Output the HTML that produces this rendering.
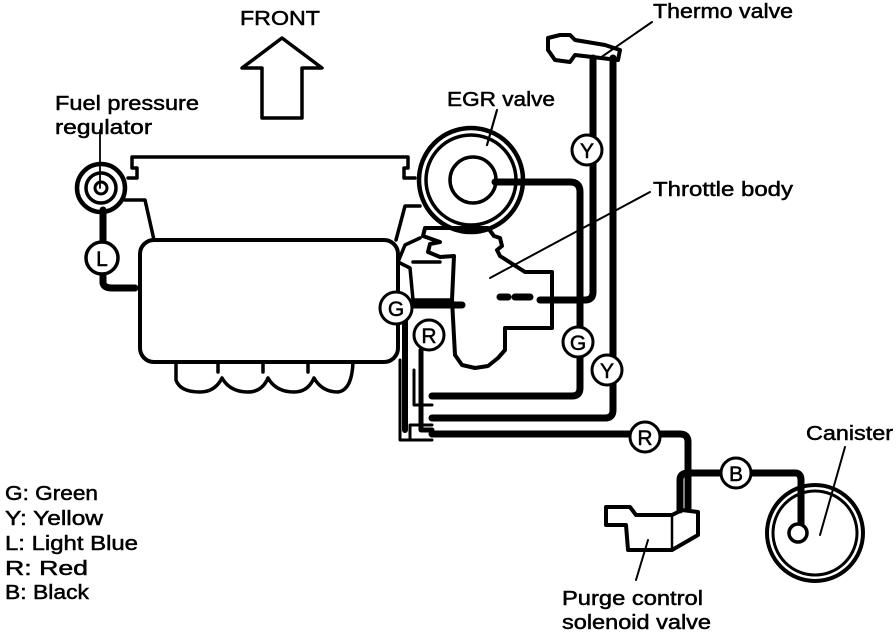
<!DOCTYPE html>
<html><head><style>
html,body{margin:0;padding:0;background:#fff;}
svg{display:block;}
text{font-family:"Liberation Sans",Arial,sans-serif;fill:#000;stroke:#000;stroke-width:0.5;}
</style></head><body>
<svg width="896" height="632" viewBox="0 0 896 632" xmlns="http://www.w3.org/2000/svg">
<g fill="none" stroke="#000" stroke-linejoin="round" stroke-linecap="round">
<path d="M282,38 L322,68 L302,68 L302,118 L262,118 L262,68 L242,68 Z" stroke-width="3.5"/>
<path d="M132,157 L132,168 L137,168 L137,178 L128,178 M132,157 L408,157 L408,168 L404,168 L404,178 L415,178" stroke-width="3.5"/>
<path d="M125,200 L145,200 L154,240 M396,240 L405,206 L420,206" stroke-width="3.5"/>
<rect x="140" y="240" width="258" height="122" rx="14" stroke-width="4"/>
<path d="M176,362 L176,380 Q180,392 200,392 Q215,392 222,378 Q230,392 248,392 Q262,392 268,378 Q276,392 294,392 Q308,392 314,378 Q322,392 338,392 Q352,390 353,362" stroke-width="3.5"/>
<path d="M218,362 L218,372 M263,362 L263,372 M308,362 L308,372" stroke-width="3.5"/>
<circle cx="101" cy="188" r="24" stroke-width="4.5"/>
<circle cx="101" cy="188" r="15" stroke-width="3.5"/>
<circle cx="101" cy="188" r="6" stroke-width="3"/>
<line x1="100" y1="130" x2="100" y2="188" stroke-width="1.8"/>
<path d="M103,210 L103,245" stroke-width="7"/>
<path d="M103,272 L103,283 Q104,288 112,288 L135,288" stroke-width="7"/>
<circle cx="102" cy="258" r="16" stroke-width="3.5" fill="#fff"/>
<circle cx="471" cy="180" r="52" stroke-width="4.5"/>
<circle cx="471" cy="180" r="45" stroke-width="3.5"/>
<circle cx="473" cy="180" r="23" stroke-width="3.5"/>
<line x1="487" y1="145" x2="497" y2="110" stroke-width="2.2"/>
<path d="M425,228 L488,228 L494,236 L500,238 L502,246 L497,250 L500,256 L525,272 L552,272 L552,328 L505,328 L505,350 L498,358 L488,366 L475,368 L462,365 L455,355 L452,300 L454,256 L440,257 L428,252 L430,244 L440,242 L423,236 Z" stroke-width="4"/>
<path d="M420,238 L405,245 L398,262 L410,268 L413,300 L452,300 M413,262 L440,262" stroke-width="3.5"/>
<path d="M500,297 L508,297 M515,297 L530,297" stroke-width="7"/>
<line x1="490" y1="278" x2="650" y2="192" stroke-width="2"/>
<path d="M548,38 L560,35 L570,35 L575,40 L605,45 L620,50 L618,60 L575,55 L570,62 L555,60 L548,50 Z" stroke-width="4"/>
<line x1="600" y1="58" x2="652" y2="22" stroke-width="2"/>
<path d="M593,58 L593,292 Q593,300 585,300 L540,300" stroke-width="7"/>
<path d="M613,58 L613,410 Q613,418 605,418 L432,418" stroke-width="7"/>
<path d="M495,182 L570,182 Q580,182 580,192 L580,388 Q580,396 572,396 L432,396" stroke-width="7"/>
<path d="M432,434 L680,434 Q688,434 688,442 L688,508" stroke-width="7"/>
<path d="M680,510 L680,480 Q680,473 688,473 L795,473 Q801,473 801,480 L801,528" stroke-width="7"/>
<path d="M405,305 L462,305" stroke-width="7"/>
<path d="M405,318 L405,430" stroke-width="6"/>
<path d="M421,350 L421,430 L432,430" stroke-width="5"/>
<path d="M400,360 L400,440 L410,440 L410,425 L432,425 M410,440 L432,440" stroke-width="3"/>
<path d="M414,370 L414,405 L432,405" stroke-width="3"/>
<circle cx="815" cy="533" r="48" stroke-width="4"/>
<circle cx="815" cy="533" r="42" stroke-width="3"/>
<circle cx="798" cy="533" r="9" stroke-width="3.5" fill="#fff"/>
<line x1="820" y1="535" x2="845" y2="447" stroke-width="2"/>
<path d="M606,507 L630,507 L636,515 L672,515 L682,510 L698,512 L698,535 L672,550 L628,550 L626,525 L606,525 Z" stroke-width="4"/>
<line x1="672" y1="515" x2="672" y2="550" stroke-width="2.5"/>
<line x1="648" y1="540" x2="636" y2="580" stroke-width="2"/>
</g>
<g stroke="#000" stroke-width="3" fill="#fff">
<circle cx="587" cy="150" r="15"/>
<circle cx="607" cy="370" r="15"/>
<circle cx="578" cy="342" r="15"/>
<circle cx="396" cy="308" r="16"/>
<circle cx="429" cy="335" r="15"/>
<circle cx="645" cy="437" r="15"/>
<circle cx="736" cy="473" r="15"/>
</g>
<g font-size="21" text-anchor="middle" style="stroke-width:1">
<text x="587" y="158">Y</text>
<text x="607" y="378">Y</text>
<text x="578" y="350">G</text>
<text x="396" y="316">G</text>
<text x="429" y="343">R</text>
<text x="645" y="445">R</text>
<text x="736" y="481">B</text>
<text x="102" y="266">L</text>
</g>
<g font-size="20" lengthAdjust="spacingAndGlyphs">
<text x="240" y="25" textLength="80" lengthAdjust="spacingAndGlyphs">FRONT</text>
<text x="55" y="110" textLength="144" lengthAdjust="spacingAndGlyphs">Fuel pressure</text>
<text x="55" y="134" textLength="97" lengthAdjust="spacingAndGlyphs">regulator</text>
<text x="447" y="106" textLength="108" lengthAdjust="spacingAndGlyphs">EGR valve</text>
<text x="653" y="18" textLength="140" lengthAdjust="spacingAndGlyphs">Thermo valve</text>
<text x="653" y="196" textLength="140" lengthAdjust="spacingAndGlyphs">Throttle body</text>
<text x="806" y="440" textLength="87" lengthAdjust="spacingAndGlyphs">Canister</text>
<text x="562" y="605" textLength="141" lengthAdjust="spacingAndGlyphs">Purge control</text>
<text x="562" y="629" textLength="149" lengthAdjust="spacingAndGlyphs">solenoid valve</text>
<text x="5" y="500" textLength="93" lengthAdjust="spacingAndGlyphs">G: Green</text>
<text x="5" y="525" textLength="98" lengthAdjust="spacingAndGlyphs">Y: Yellow</text>
<text x="5" y="550" textLength="133" lengthAdjust="spacingAndGlyphs">L: Light Blue</text>
<text x="5" y="575" textLength="83" lengthAdjust="spacingAndGlyphs">R: Red</text>
<text x="5" y="599" textLength="84" lengthAdjust="spacingAndGlyphs">B: Black</text>
</g>
</svg>
</body></html>
